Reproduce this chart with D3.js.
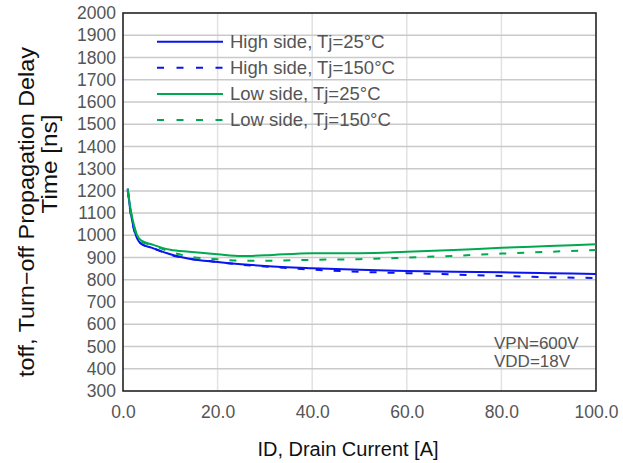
<!DOCTYPE html>
<html>
<head>
<meta charset="utf-8">
<script src="https://cdn.jsdelivr.net/npm/d3@7"></script>
<style>
  body { margin: 0; background: #fff; }
  text { font-family: "Liberation Sans", Arial, sans-serif; }
</style>
</head>
<body>
<div id="chart"></div>
<script>
// Drain current [A]
const drainCurrent = [1, 1.5, 2, 3, 4, 6, 10, 14, 20, 25, 30, 40, 50, 60, 70, 80, 90, 100];
// toff [ns]
const highSide25 = [1210, 1120, 1060, 985, 960, 945, 915, 895, 880, 870, 862, 852, 845, 840, 836, 834, 830, 826];
const highSide150 = [1205, 1115, 1055, 985, 960, 945, 912, 895, 880, 868, 860, 846, 836, 830, 824, 817, 812, 808];
const lowSide25 = [1210, 1130, 1075, 1000, 975, 960, 935, 926, 915, 907, 910, 920, 920, 926, 934, 944, 952, 960];
const lowSide150 = [1200, 1125, 1070, 995, 970, 958, 926, 905, 892, 886, 886, 890, 893, 900, 908, 918, 926, 934];

const seriesNames = ["High side, Tj=25°C", "High side, Tj=150°C", "Low side, Tj=25°C", "Low side, Tj=150°C"];
const xTicks = [0, 20, 40, 60, 80, 100];
const yTicks = d3.range(300, 2001, 100);

const width = 623, height = 463;
const margin = { top: 13, right: 27, bottom: 72, left: 123 };

const svg = d3.select("#chart").append("svg")
  .attr("width", width)
  .attr("height", height);

const x = d3.scaleLinear().domain([0, 100]).range([margin.left, width - margin.right]);
const y = d3.scaleLinear().domain([300, 2000]).range([height - margin.bottom, margin.top]);

// grid
svg.append("g")
  .selectAll("line")
  .data(xTicks.slice(1, -1))
  .enter().append("line")
  .attr("x1", d => x(d)).attr("x2", d => x(d))
  .attr("y1", y(300)).attr("y2", y(2000))
  .attr("stroke", "#e2e2e2")
  .attr("stroke-width", 1.5);

svg.append("g")
  .selectAll("line")
  .data(yTicks.slice(1, -1))
  .enter().append("line")
  .attr("x1", x(0)).attr("x2", x(100))
  .attr("y1", d => y(d)).attr("y2", d => y(d))
  .attr("stroke", "#cacaca")
  .attr("stroke-width", 1.5);

// axes (labels only)
const xAxis = svg.append("g")
  .attr("transform", `translate(0,${y(300)})`)
  .call(d3.axisBottom(x).tickValues(xTicks).tickFormat(d3.format(".1f")).tickSize(0).tickPadding(15));
const yAxis = svg.append("g")
  .attr("transform", `translate(${x(0)},0)`)
  .call(d3.axisLeft(y).tickValues(yTicks).tickFormat(d3.format("d")).tickSize(0).tickPadding(7));
[xAxis, yAxis].forEach(a => {
  a.select(".domain").remove();
  a.selectAll("text")
    .attr("fill", "#555")
    .style("font-size", "17.5px")
    .style("font-family", "'Liberation Sans', Arial, sans-serif");
});

// frame
svg.append("rect")
  .attr("x", x(0)).attr("y", y(2000))
  .attr("width", x(100) - x(0)).attr("height", y(300) - y(2000))
  .attr("fill", "none")
  .attr("stroke", "#222")
  .attr("stroke-width", 1.6);

// lines
const series = [
  { name: seriesNames[0], values: highSide25, color: "#0a14f0", dash: null },
  { name: seriesNames[1], values: highSide150, color: "#0a14f0", dash: "7,11" },
  { name: seriesNames[2], values: lowSide25, color: "#00a94f", dash: null },
  { name: seriesNames[3], values: lowSide150, color: "#00a94f", dash: "7,11" }
];

const line = d3.line()
  .x((d, i) => x(drainCurrent[i]))
  .y(d => y(d))
  .curve(d3.curveMonotoneX);

svg.append("g")
  .selectAll("path")
  .data(series)
  .enter().append("path")
  .attr("d", d => line(d.values))
  .attr("fill", "none")
  .attr("stroke", d => d.color)
  .attr("stroke-width", 2)
  .attr("stroke-dasharray", d => d.dash);

// legend
const legend = svg.append("g")
  .selectAll("g")
  .data(series)
  .enter().append("g")
  .attr("transform", (d, i) => `translate(157,${41.7 + i * 26.1})`);
legend.append("line")
  .attr("x1", 0).attr("x2", 66)
  .attr("stroke", d => d.color)
  .attr("stroke-width", 2)
  .attr("stroke-dasharray", d => d.dash ? "7,12.5" : null);
legend.append("text")
  .attr("x", 73)
  .attr("dy", "0.35em")
  .attr("fill", "#555")
  .style("font-size", "18.5px")
  .text(d => d.name);

// conditions
const cond = svg.append("text")
  .attr("x", 494).attr("y", 349)
  .attr("fill", "#555").style("font-size", "17px");
cond.append("tspan").attr("x", 494).text("VPN=600V");
cond.append("tspan").attr("x", 494).attr("dy", 18).text("VDD=18V");

// axis titles
svg.append("text")
  .attr("x", 348).attr("y", 456)
  .attr("text-anchor", "middle")
  .attr("fill", "#111")
  .style("font-size", "20px")
  .text("ID, Drain Current [A]");

svg.append("text")
  .attr("transform", "translate(34,212) rotate(-90)")
  .attr("text-anchor", "middle")
  .attr("fill", "#111")
  .style("font-size", "22px")
  .attr("textLength", 330)
  .attr("lengthAdjust", "spacingAndGlyphs")
  .text("toff, Turn\u2212off Propagation Delay");

svg.append("text")
  .attr("transform", "translate(57,164) rotate(-90)")
  .attr("text-anchor", "middle")
  .attr("fill", "#111")
  .style("font-size", "22px")
  .attr("textLength", 99)
  .attr("lengthAdjust", "spacingAndGlyphs")
  .text("Time [ns]");
</script>
</body>
</html>
